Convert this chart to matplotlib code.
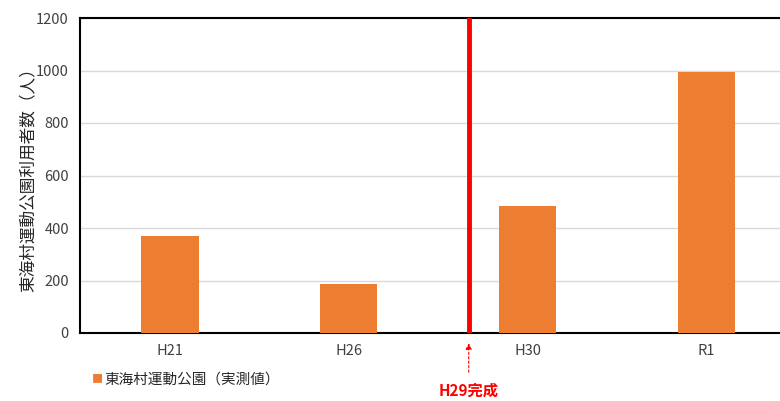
import matplotlib
matplotlib.use("Agg")
import matplotlib.pyplot as plt

plt.rcParams['font.family'] = ['Noto Sans CJK JP', 'DejaVu Sans']

years = ["H21", "H26", "H30", "R1"]
users = [370, 187, 482, 995]
marker_pos = 1.67
marker_label = "H29完成"
series_label = "東海村運動公園（実測値）"
ylabel = "東海村運動公園利用者数（人）"

ORANGE = "#ED7D31"
RED = "#FF0000"

fig = plt.figure(figsize=(7.8, 4.01), dpi=100)
ax = fig.add_axes([80/780, 1 - 333/401, 1 - 80/780, 315/401])

x = list(range(len(years)))
ax.bar(x, users, width=0.32, color=ORANGE, zorder=3)
ax.set_xlim(-0.503, 3.41)
ax.set_ylim(0, 1200)
ax.set_yticks(range(0, 1201, 200))
ax.set_xticks(x)
ax.set_xticklabels(years)
ax.grid(axis="y", color="#d9d9d9", lw=1, zorder=0)
for s in ("top", "left", "bottom"):
    ax.spines[s].set_color("black")
    ax.spines[s].set_linewidth(1.5)
ax.spines["right"].set_visible(False)
ax.tick_params(length=0, labelsize=10.5, labelcolor="#404040", pad=8)
ax.set_ylabel(ylabel, fontsize=12, color="#262626")
ax.yaxis.set_label_coords(-0.062, 0.5)

ax.axvline(marker_pos, color=RED, lw=3.5, zorder=4)
ax.annotate("", xy=(marker_pos, -28), xytext=(marker_pos, -160),
            xycoords="data", textcoords="data", annotation_clip=False,
            arrowprops=dict(arrowstyle="-|>", color=RED, lw=0.8, ls=(0, (2, 2)),
                            mutation_scale=9))
ax.text(marker_pos, -218, marker_label, color=RED, fontsize=11, fontweight="bold",
        ha="center", va="center", clip_on=False)

fig.text(92/780, 1 - 379/401, "■", color=ORANGE, fontsize=8, va="center", ha="left")
fig.text(104/780, 1 - 380/401, series_label, color="#262626", fontsize=10.5,
         va="center", ha="left")

fig.savefig("out.png", dpi=100)
